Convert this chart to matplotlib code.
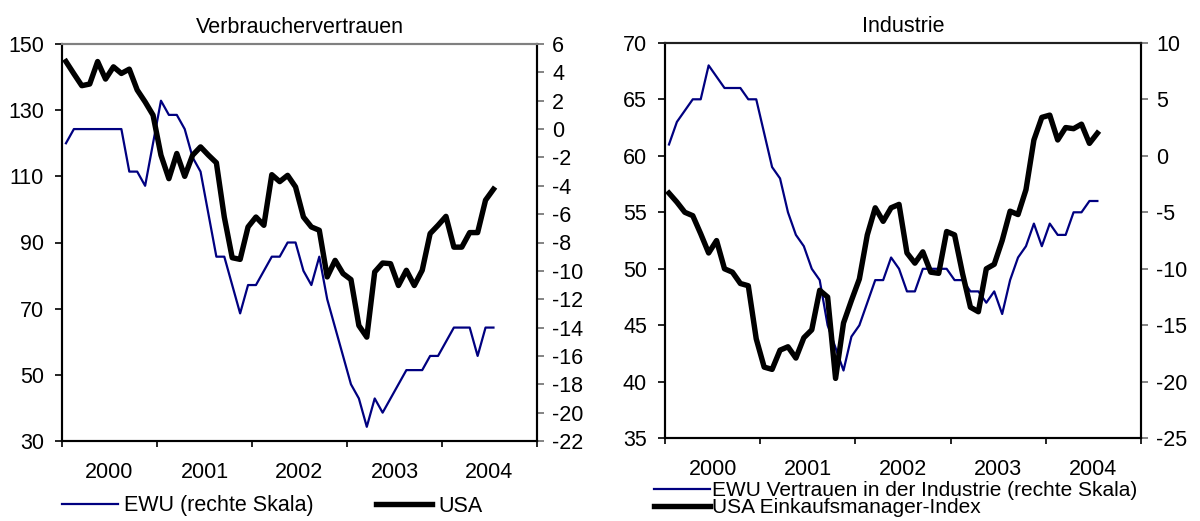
import numpy as np
import matplotlib
matplotlib.use("Agg")
import matplotlib.pyplot as plt
from matplotlib.ticker import FixedLocator, NullFormatter, FixedFormatter

plt.rcParams['font.family'] = ['Liberation Sans', 'DejaVu Sans']
plt.rcParams['axes.unicode_minus'] = False

# ---------------- data (monthly, Jan 2000 - Jul 2004) ----------------
years = ['2000', '2001', '2002', '2003', '2004']

usa_consumer = [144.7, 141.0, 137.4, 137.9, 144.7, 139.4, 143.1, 141.1, 142.4, 136.1,
                132.5, 128.5, 116.4, 109.3, 116.9, 110.0, 116.4, 118.9, 116.4, 114.1,
                97.7, 85.4, 84.9, 94.7, 97.7, 95.2, 110.5, 108.4, 110.3, 106.8,
                97.7, 94.7, 93.7, 79.6, 84.6, 80.6, 78.8, 64.9, 61.4, 81.1,
                83.8, 83.6, 77.0, 81.6, 77.0, 81.6, 92.7, 95.2, 97.9, 88.6,
                88.6, 93.0, 93.0, 102.8, 106.1]

ewu_consumer = [-1, 0, 0, 0, 0, 0, 0, 0, -3, -3,
                -4, -1, 2, 1, 1, 0, -2, -3, -6, -9,
                -9, -11, -13, -11, -11, -10, -9, -9, -8, -8,
                -10, -11, -9, -12, -14, -16, -18, -19, -21, -19,
                -20, -19, -18, -17, -17, -17, -16, -16, -15, -14,
                -14, -14, -16, -14, -14]

usa_ism = [56.7, 55.9, 55.0, 54.7, 53.1, 51.4, 52.5, 50.0, 49.7, 48.7,
           48.5, 43.8, 41.3, 41.1, 42.8, 43.1, 42.1, 43.9, 44.6, 48.1,
           47.5, 40.3, 45.2, 47.2, 49.1, 53.0, 55.4, 54.2, 55.4, 55.7,
           51.4, 50.5, 51.5, 49.7, 49.6, 53.3, 53.0, 49.6, 46.6, 46.2,
           50.0, 50.4, 52.5, 55.1, 54.8, 57.0, 61.4, 63.4, 63.6, 61.4,
           62.5, 62.4, 62.8, 61.1, 62.0]

ewu_industry = [1, 3, 4, 5, 5, 8, 7, 6, 6, 6,
                5, 5, 2, -1, -2, -5, -7, -8, -10, -11,
                -15, -17, -19, -16, -15, -13, -11, -11, -9, -10,
                -12, -12, -10, -10, -10, -10, -11, -11, -12, -12,
                -13, -12, -14, -11, -9, -8, -6, -8, -6, -7,
                -7, -5, -5, -4, -4]

# month positions (centre of each month)
x = np.arange(len(usa_consumer)) + 0.5

BLUE = '#000080'
FS = 15.5

fig = plt.figure(figsize=(12, 5.21), dpi=100)


def setup(ax, ax2, left_lim, left_ticks, right_lim, right_ticks, top_color):
    n_years = len(years)
    ax.set_xlim(0, 12 * n_years)
    ax.xaxis.set_major_locator(FixedLocator([12 * k for k in range(n_years + 1)]))
    ax.xaxis.set_major_formatter(NullFormatter())
    ax.xaxis.set_minor_locator(FixedLocator([12 * k + 6 for k in range(n_years)]))
    ax.xaxis.set_minor_formatter(FixedFormatter(years))
    ax.tick_params(axis='x', which='major', direction='out', length=4.5, width=1.2, color='black')
    ax.tick_params(axis='x', which='minor', length=0, pad=15, labelsize=FS)
    ax.set_ylim(*left_lim)
    ax.set_yticks(left_ticks)
    ax.tick_params(axis='y', direction='out', length=5, width=1.2, pad=8, labelsize=FS)
    ax2.set_ylim(*right_lim)
    ax2.set_yticks(right_ticks)
    ax2.tick_params(axis='y', direction='out', length=5, width=1.2, pad=6, labelsize=FS,
                    color='#707070')
    for a in (ax, ax2):
        for s in ('left', 'bottom', 'right'):
            a.spines[s].set_color('black')
            a.spines[s].set_linewidth(1.5)
        a.spines['top'].set_color(top_color)
        a.spines['top'].set_linewidth(1.5)
    ax.set_zorder(2)
    ax.patch.set_visible(False)
    ax2.set_zorder(1)


# ---------------- left panel ----------------
axL = fig.add_axes([62 / 1200, 80 / 521, 475 / 1200, 397 / 521])
axL2 = axL.twinx()
l_ewu, = axL2.plot(x, ewu_consumer, color=BLUE, lw=1.6, label='EWU (rechte Skala)')
l_usa, = axL.plot(x, usa_consumer, color='black', lw=3.9, label='USA')
setup(axL, axL2, (30, 150), list(range(30, 151, 20)), (-22, 6), list(range(-22, 7, 2)),
      '#808080')
axL.set_title('Verbrauchervertrauen', fontsize=15.5, pad=8)
fig.legend(handles=[l_ewu, l_usa], loc='center left',
           bbox_to_anchor=(62 / 1200, 15 / 521), ncol=2, frameon=False,
           fontsize=FS, handlelength=2.6, handletextpad=0.28, columnspacing=2.9,
           borderpad=0, borderaxespad=0)

# ---------------- right panel ----------------
axR = fig.add_axes([665 / 1200, 82.7 / 521, 476 / 1200, 395.5 / 521])
axR2 = axR.twinx()
r_ewu, = axR2.plot(x, ewu_industry, color=BLUE, lw=1.6,
                   label='EWU Vertrauen in der Industrie (rechte Skala)')
r_usa, = axR.plot(x, usa_ism, color='black', lw=3.9, label='USA Einkaufsmanager-Index')
setup(axR, axR2, (35, 70), list(range(35, 71, 5)), (-25, 10), list(range(-25, 11, 5)),
      '#202020')
axR.set_title('Industrie', fontsize=15.5, pad=8)
fig.legend(handles=[r_ewu, r_usa], loc='center left',
           bbox_to_anchor=(654 / 1200, 22 / 521), ncol=1, frameon=False,
           fontsize=15, handlelength=2.7, handletextpad=0.08, labelspacing=-0.1,
           borderpad=0, borderaxespad=0)

fig.savefig('out.png', dpi=100)
